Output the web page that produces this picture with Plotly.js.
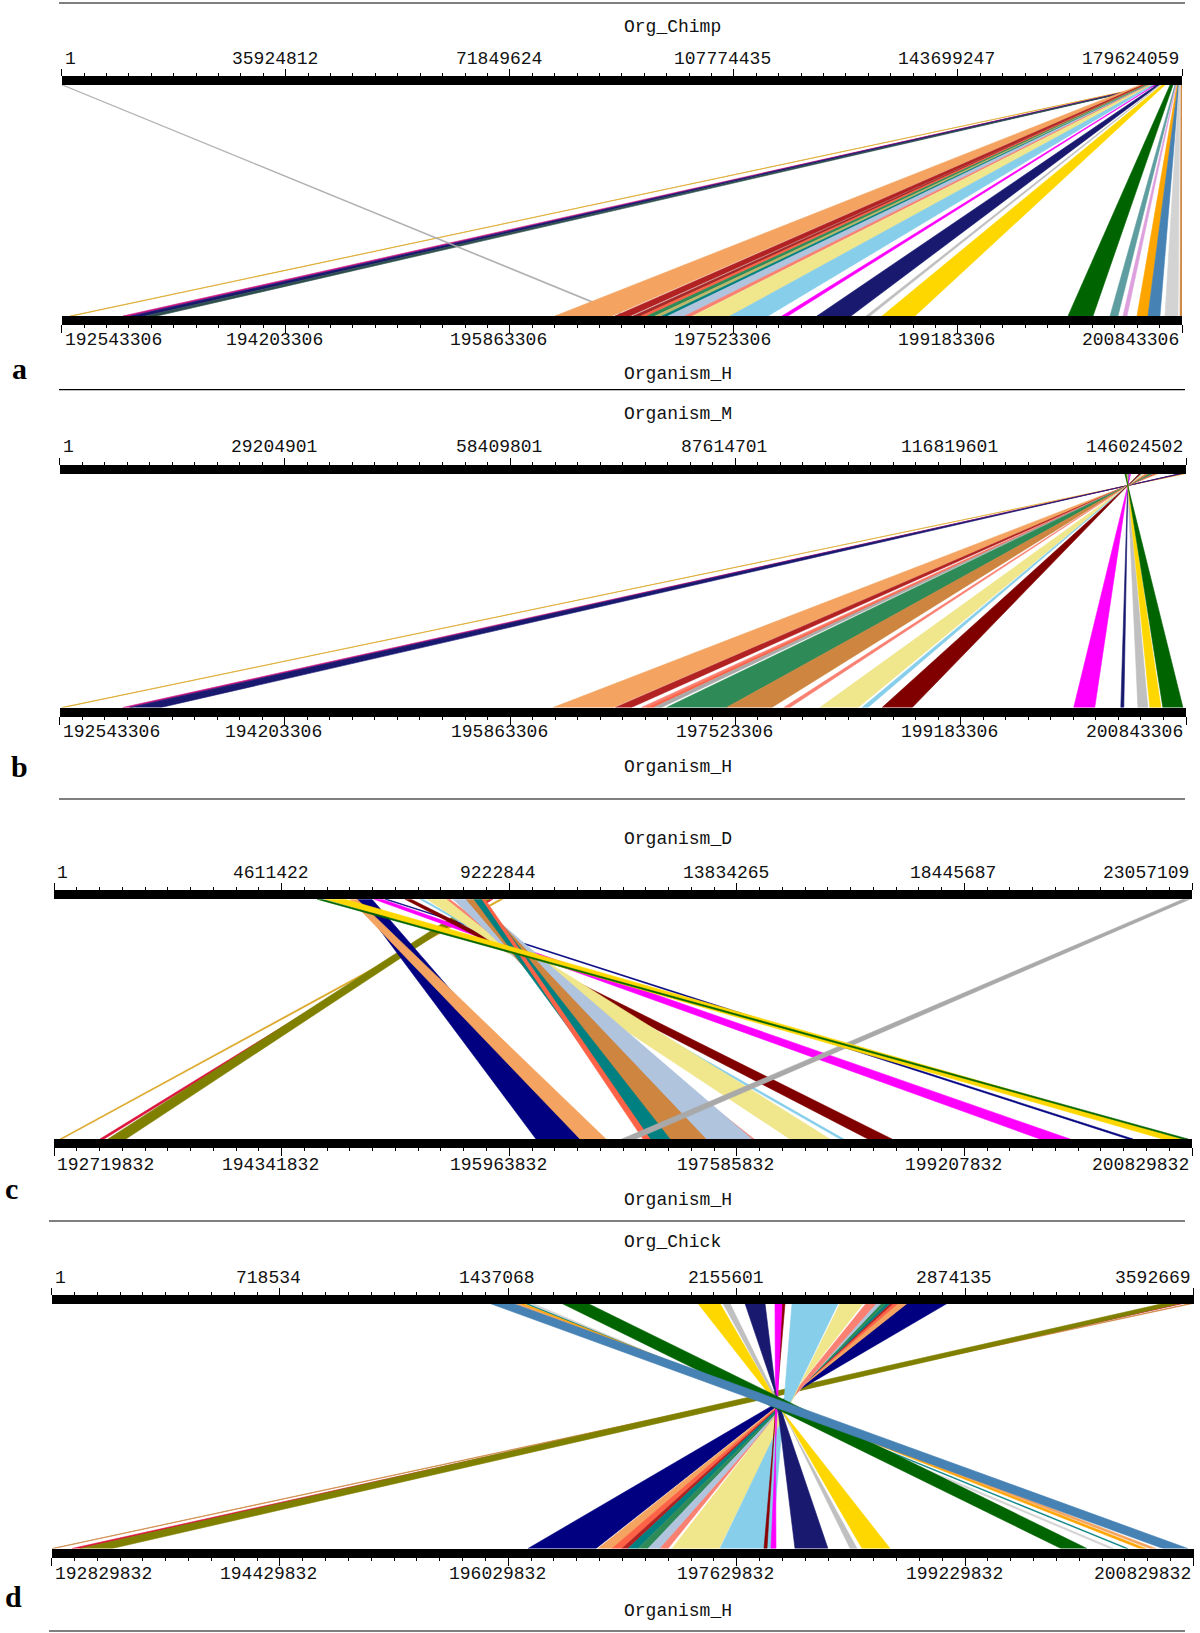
<!DOCTYPE html>
<html><head><meta charset="utf-8">
<script src="https://cdn.plot.ly/plotly-3.0.1.min.js"></script>
<style>html,body{margin:0;padding:0;background:#fff}#chart{width:1200px;height:1633px}</style>
</head><body><div id="chart"></div>
<script>
// ---------- DATA (positions in Mb) ----------
const panelLetters = ['a','b','c','d'];
const topNames = ['Org_Chimp','Organism_M','Organism_D','Org_Chick'];
const bottomName = 'Organism_H';

// Panel a
const aTopTicks = [1, 35924812, 71849624, 107774435, 143699247, 179624059];
const aBotTicks = [192543306, 194203306, 195863306, 197523306, 199183306, 200843306];
const aTopStart = [175.29,175.45,175.53,175.77,0.05,172.89,173.37,173.53,173.69,173.85,174.01,174.17,174.25,174.33,174.49,174.81,175.29,175.61,176.09,176.41,177.70,178.50,178.66,178.82,178.98,179.14,179.46];
const aTopEnd   = [175.37,175.53,175.77,175.93,0.21,173.37,173.53,173.69,173.85,174.01,174.17,174.25,174.33,174.41,174.81,175.13,175.37,175.93,176.17,176.89,178.18,178.58,178.70,178.98,179.14,179.30,179.62];
const aBotStart = [192.605,192.997,193.057,193.160,196.717,196.198,196.643,196.776,196.835,196.880,196.939,196.991,197.035,197.161,197.220,197.495,197.880,198.139,198.502,198.621,199.999,200.310,200.406,200.510,200.591,200.717,200.829];
const aBotEnd   = [192.620,193.057,193.160,193.249,196.739,196.620,196.754,196.835,196.880,196.939,196.991,197.035,197.161,197.213,197.495,197.776,197.924,198.391,198.532,198.865,200.184,200.369,200.436,200.591,200.680,200.814,200.843];
const aStrand   = ['+','+','+','+','+','+','+','+','+','+','+','+','+','+','+','+','+','+','+','+','+','+','+','+','+','+','+'];
const aColor    = ['#DAA520','#C71585','#191970','#2F4F4F','#A9A9A9','#F4A460','#B22222','#A52A2A','#FF6347','#2E8B57','#BDB76B','#008080','#B0C4DE','#FA8072','#F0E68C','#87CEEB','#FF00FF','#191970','#C0C0C0','#FFD700','#006400','#5F9EA0','#DDA0DD','#FFA500','#4682B4','#D3D3D3','#CD853F'];

// Panel b
const bTopTicks = [1, 29204901, 58409801, 87614701, 116819601, 146024502];
const bBotTicks = [192543306, 194203306, 195863306, 197523306, 199183306, 200843306];
const bTopStart = [145.95,145.48,145.26,142.08,141.95,141.85,141.80,141.74,141.29,140.98,140.85,140.37,140.30,139.99,138.72,138.51,138.34,138.25,138.09];
const bTopEnd   = [146.00,145.53,145.48,142.51,142.07,141.89,141.85,141.80,141.71,141.29,140.89,140.64,140.34,140.20,138.86,138.52,138.40,138.33,138.24];
const bBotStart = [192.558,193.009,193.061,196.180,196.638,196.830,196.874,196.919,197.015,197.458,197.880,198.146,198.456,198.604,200.016,200.363,200.489,200.577,200.673];
const bBotEnd   = [192.573,193.061,193.290,196.623,196.756,196.874,196.919,196.978,197.458,197.791,197.924,198.427,198.500,198.826,200.171,200.385,200.562,200.659,200.821];
const bStrand   = ['-','-','-','-','-','-','-','-','-','-','-','-','-','-','-','-','-','-','-'];
const bColor    = ['#DAA520','#C71585','#191970','#F4A460','#B22222','#FA8072','#FF6347','#A9A9A9','#2E8B57','#CD853F','#FA8072','#F0E68C','#87CEEB','#800000','#FF00FF','#191970','#C0C0C0','#FFD700','#006400'];

// Panel c
const cTopTicks = [1, 4611422, 9222844, 13834265, 18445687, 23057109];
const cBotTicks = [192719832, 194341832, 195963832, 197585832, 199207832, 200829832];
const cTopStart = [9.034,8.832,8.629,6.137,5.995,6.482,6.704,7.110,7.413,7.555,7.961,8.082,8.346,8.508,8.670,22.873,5.489,5.327];
const cTopEnd   = [9.095,8.893,8.832,6.441,6.137,6.644,6.745,7.231,7.474,7.961,8.021,8.487,8.589,8.670,8.730,23.014,5.894,5.428];
const cBotStart = [192.762,193.047,193.104,196.154,196.468,199.746,200.373,198.520,198.321,197.964,197.665,197.366,197.109,196.967,196.917,196.767,200.622,200.765];
const cBotEnd   = [192.776,193.076,193.232,196.468,196.653,199.960,200.409,198.691,198.349,198.249,197.708,197.693,197.366,197.109,196.967,196.866,200.758,200.801];
const cStrand   = ['+','+','+','+','+','+','+','+','+','+','+','+','+','+','+','+','+','+'];
const cColor    = ['#DAA520','#DC143C','#808000','#000080','#F4A460','#FF00FF','#000080','#800000','#87CEEB','#F0E68C','#FA8072','#B0C4DE','#CD853F','#008080','#FF6347','#A9A9A9','#FFD700','#006400'];

// Panel d
const dTopTicks = [1, 718534, 1437068, 2155601, 2874135, 3592669];
const dBotTicks = [192829832, 194429832, 196029832, 197629832, 199229832, 200829832];
const dTopStart = [3.5817,3.5503,3.4968,2.6914,2.6631,2.6474,2.6379,2.6253,2.6096,2.5939,2.5624,2.4806,2.3296,2.2982,2.2761,2.1817,2.1126,2.0339,1.5054,1.4896,1.4708,1.4550,1.6061,1.3795];
const dTopEnd   = [3.5912,3.5597,3.5503,2.8172,2.6914,2.6631,2.6474,2.6379,2.6253,2.6096,2.5939,2.5530,2.4743,2.3076,2.2982,2.2447,2.1346,2.1031,1.5148,1.4959,1.4833,1.4676,1.6878,1.4519];
const dBotStart = [192.833,192.973,193.030,196.168,196.658,196.756,196.826,196.868,196.938,197.009,197.093,197.177,197.513,197.821,197.870,198.038,198.424,198.508,200.245,200.357,200.455,200.525,199.902,200.616];
const dBotEnd   = [192.847,193.030,193.254,196.644,196.756,196.826,196.868,196.938,197.009,197.093,197.149,197.506,197.877,197.842,197.905,198.269,198.473,198.704,200.273,200.371,200.497,200.567,200.084,200.791];
const dStrand   = ['+','+','+','-','-','-','-','-','-','-','-','-','-','-','-','-','-','-','+','+','+','+','+','+'];
const dColor    = ['#CD853F','#DC143C','#808000','#000080','#F4A460','#FF6347','#B22222','#008080','#2E8B57','#B0C4DE','#FA8072','#F0E68C','#87CEEB','#8B0000','#FF00FF','#191970','#C0C0C0','#FFD700','#D3D3D3','#008080','#FFA500','#F4A460','#006400','#4682B4'];

// ---------- LAYOUT GEOMETRY (pixels) ----------
const W = 1200, H = 1633;
const geom = [
  {x0:61.7, x1:1182,  top:80.5,  bot:320.5,  tl:59,    bl:340,   tt:27,    bt:374,  lx:19, ly:368},
  {x0:59.5, x1:1186,  top:469,   bot:712,    tl:447,   bl:732.5, tt:413.7, bt:767,  lx:19, ly:766},
  {x0:54.1, x1:1192,  top:894.7, bot:1143.5, tl:873,   bl:1165,  tt:839,   bt:1200, lx:11, ly:1188},
  {x0:51.5, x1:1193.5,top:1299,  bot:1553,   tl:1277.5,bl:1574,  tt:1241.5,bt:1611, lx:13, ly:1596}
];
const sepLines = [{y:3,x0:59,x1:1185},{y:389.7,x0:59,x1:1185},{y:799,x0:59,x1:1185},{y:1221,x0:49,x1:1185},{y:1631,x0:49,x1:1185}];
const BAR = 9;
const px = v => v / W, py = v => 1 - v / H;

const panels = [
  {tt:aTopTicks, bt:aBotTicks, ts:aTopStart, te:aTopEnd, bs:aBotStart, be:aBotEnd, st:aStrand, col:aColor},
  {tt:bTopTicks, bt:bBotTicks, ts:bTopStart, te:bTopEnd, bs:bBotStart, be:bBotEnd, st:bStrand, col:bColor},
  {tt:cTopTicks, bt:cBotTicks, ts:cTopStart, te:cTopEnd, bs:cBotStart, be:cBotEnd, st:cStrand, col:cColor},
  {tt:dTopTicks, bt:dBotTicks, ts:dTopStart, te:dTopEnd, bs:dBotStart, be:dBotEnd, st:dStrand, col:dColor}
];

const MB = 1e6;
const labelFont = {family:'Liberation Mono, DejaVu Sans Mono, monospace', size:18, color:'#111'};
const traces = [], annotations = [], shapes = [];
const layout = {width:W, height:H, margin:{l:0,r:0,t:0,b:0}, paper_bgcolor:'#fff', plot_bgcolor:'rgba(0,0,0,0)', showlegend:false, autosize:false};

function minorVals(ticks){
  const out = [];
  for (let i = 0; i < ticks.length - 1; i++) {
    const step = (ticks[i+1] - ticks[i]) / 10;
    for (let k = 1; k < 10; k++) out.push(ticks[i] + k * step);
  }
  return out;
}

panels.forEach((p, i) => {
  const g = geom[i];
  const xt = 'x' + (2*i+1 === 1 ? '' : 2*i+1);
  const xb = 'x' + (2*i+2);
  const yn = 'y' + (i === 0 ? '' : i+1);
  const tMin = p.tt[0], tMax = p.tt[p.tt.length-1];
  const bMin = p.bt[0], bMax = p.bt[p.bt.length-1];
  const dom = [px(g.x0), px(g.x1)];
  const common = {showline:true, linewidth:BAR, linecolor:'#000', ticks:'outside', tickwidth:1, tickcolor:'#000',
    tickmode:'array', showticklabels:false, showgrid:false, zeroline:false, fixedrange:true};
  layout['xaxis' + (2*i+1 === 1 ? '' : 2*i+1)] = Object.assign({}, common, {
    domain:dom, range:[tMin, tMax], side:'top', anchor:yn, tickvals:p.tt, ticklen:7,
    minor:{ticks:'outside', ticklen:3, tickwidth:1, tickcolor:'#000', tickmode:'array', tickvals:minorVals(p.tt), showgrid:false}
  });
  layout['xaxis' + (2*i+2)] = Object.assign({}, common, {
    domain:dom, range:[bMin, bMax], side:'bottom', anchor:yn, overlaying:xt, tickvals:p.bt, ticklen:8,
    minor:{ticks:'outside', ticklen:3, tickwidth:1, tickcolor:'#000', tickmode:'array', tickvals:minorVals(p.bt), showgrid:false}
  });
  layout['yaxis' + (i === 0 ? '' : i+1)] = {domain:[py(g.bot - BAR/2), py(g.top + BAR/2)], range:[0,1], visible:false, fixedrange:true};

  const mapBot = v => tMin + (v - bMin) / (bMax - bMin) * (tMax - tMin);
  for (let k = 0; k < p.ts.length; k++) {
    const t0 = p.ts[k]*MB, t1 = p.te[k]*MB;
    const b0 = mapBot(p.bs[k]*MB), b1 = mapBot(p.be[k]*MB);
    const xs = p.st[k] === '-' ? [t0, t1, b0, b1, t0] : [t0, t1, b1, b0, t0];
    traces.push({type:'scatter', mode:'lines', x:xs, y:[1,1,0,0,1], xaxis:xt, yaxis:yn,
      fill:'toself', fillcolor:p.col[k], line:{color:p.col[k], width:0.6}, hoverinfo:'skip', showlegend:false});
  }

  p.tt.forEach((v, j) => {
    const first = j === 0, last = j === p.tt.length - 1;
    annotations.push({xref:xt, yref:'paper', x:v, y:py(g.tl), text:String(v), showarrow:false, font:labelFont,
      xanchor: first ? 'left' : (last ? 'right' : 'center'), yanchor:'middle', xshift: first ? 1 : (last ? -1 : -11)});
  });
  p.bt.forEach((v, j) => {
    const first = j === 0, last = j === p.bt.length - 1;
    annotations.push({xref:xb, yref:'paper', x:v, y:py(g.bl), text:String(v), showarrow:false, font:labelFont,
      xanchor: first ? 'left' : (last ? 'right' : 'center'), yanchor:'middle', xshift: first ? 1 : (last ? -1 : -11)});
  });
  annotations.push({xref:'paper', yref:'paper', x:px(622), y:py(g.tt), text:topNames[i], showarrow:false, font:labelFont, xanchor:'left', yanchor:'middle'});
  annotations.push({xref:'paper', yref:'paper', x:px(622), y:py(g.bt), text:bottomName, showarrow:false, font:labelFont, xanchor:'left', yanchor:'middle'});
  annotations.push({xref:'paper', yref:'paper', x:px(g.lx), y:py(g.ly), text:'<b>' + panelLetters[i] + '</b>', showarrow:false,
    font:{family:'Liberation Serif, DejaVu Serif, serif', size:30, color:'#000'}, xanchor:'center', yanchor:'middle'});
});

sepLines.forEach(s => shapes.push({type:'line', xref:'paper', yref:'paper', x0:px(s.x0), x1:px(s.x1), y0:py(s.y), y1:py(s.y), line:{color:'#000', width:1.2}}));
layout.annotations = annotations;
layout.shapes = shapes;

Plotly.newPlot('chart', traces, layout, {staticPlot:true, displayModeBar:false});
</script>
</body></html>
